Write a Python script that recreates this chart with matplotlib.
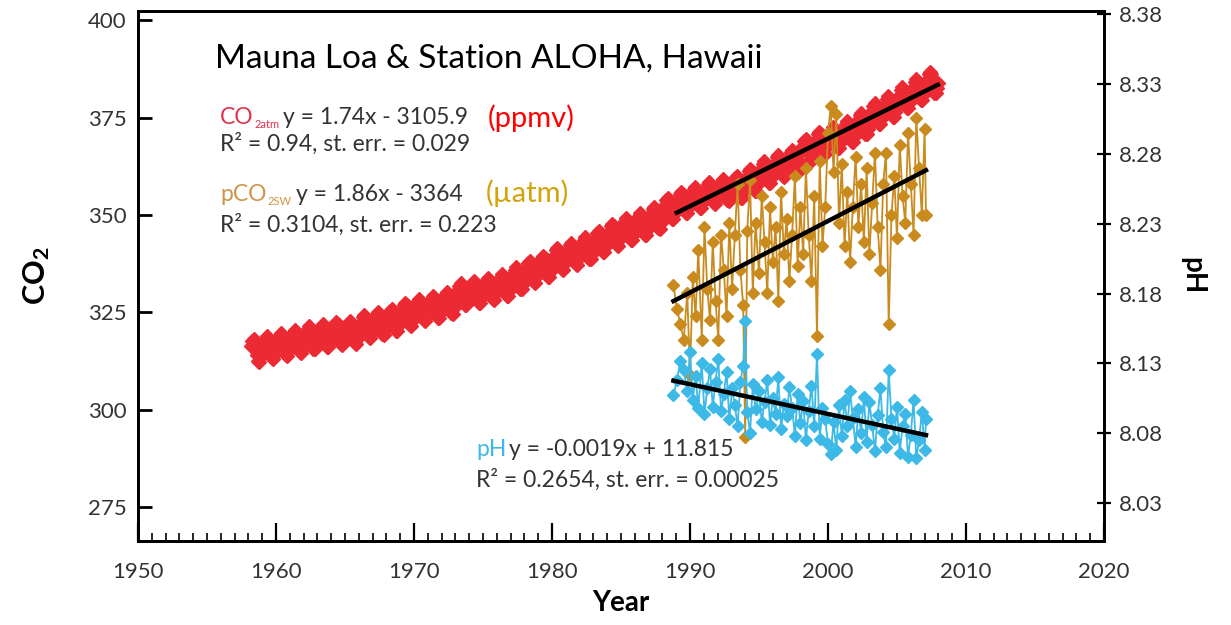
import matplotlib
matplotlib.use("Agg")
import matplotlib.pyplot as plt
from matplotlib.ticker import MultipleLocator
import numpy as np

plt.rcParams['font.family'] = ['Lato', 'DejaVu Sans']
plt.rcParams['mathtext.fontset'] = 'custom'
plt.rcParams['mathtext.rm'] = 'Lato'
plt.rcParams['mathtext.bf'] = 'Lato:bold'

# Mauna Loa monthly CO2 (ppmv), one row per year, Jan..Dec (1958 starts in March)
co2_start_year = 1958
co2_rows = [
    [None, None, 316.5, 317.6, 318.2, 317.6, 316.1, 314.1, 312.5, 312.3, 313.6, 314.8],
    [315.6, 316.3, 317.2, 318.3, 318.9, 318.3, 316.8, 314.8, 313.2, 313.0, 314.3, 315.5],
    [316.5, 317.2, 318.1, 319.2, 319.8, 319.2, 317.7, 315.7, 314.1, 313.9, 315.2, 316.4],
    [317.2, 317.9, 318.8, 319.9, 320.5, 319.9, 318.4, 316.4, 314.8, 314.6, 315.9, 317.1],
    [318.1, 318.8, 319.7, 320.8, 321.4, 320.8, 319.3, 317.3, 315.7, 315.5, 316.8, 318.0],
    [318.6, 319.3, 320.2, 321.3, 321.9, 321.3, 319.8, 317.8, 316.2, 316.0, 317.3, 318.5],
    [319.2, 319.9, 320.8, 321.9, 322.5, 321.9, 320.4, 318.4, 316.8, 316.6, 317.9, 319.1],
    [319.6, 320.3, 321.2, 322.3, 322.9, 322.3, 320.8, 318.8, 317.2, 317.0, 318.3, 319.5],
    [321.0, 321.7, 322.6, 323.7, 324.3, 323.7, 322.2, 320.2, 318.6, 318.4, 319.7, 320.9],
    [321.8, 322.5, 323.4, 324.5, 325.1, 324.5, 323.0, 321.0, 319.4, 319.2, 320.5, 321.7],
    [322.7, 323.4, 324.3, 325.4, 326.0, 325.4, 323.9, 321.9, 320.3, 320.1, 321.4, 322.6],
    [324.2, 324.9, 325.8, 326.9, 327.5, 326.9, 325.4, 323.4, 321.8, 321.6, 322.9, 324.1],
    [325.0, 325.7, 326.7, 327.9, 328.5, 327.9, 326.6, 324.6, 323.0, 322.9, 324.3, 325.5],
    [325.6, 326.3, 327.3, 328.5, 329.1, 328.5, 327.2, 325.2, 323.6, 323.5, 324.9, 326.1],
    [326.8, 327.5, 328.5, 329.7, 330.3, 329.7, 328.4, 326.4, 324.8, 324.7, 326.1, 327.3],
    [329.0, 329.7, 330.7, 331.9, 332.5, 331.9, 330.6, 328.6, 327.0, 326.9, 328.3, 329.5],
    [329.5, 330.2, 331.2, 332.4, 333.0, 332.4, 331.1, 329.1, 327.5, 327.4, 328.8, 330.0],
    [330.4, 331.1, 332.1, 333.3, 333.9, 333.3, 332.0, 330.0, 328.4, 328.3, 329.7, 330.9],
    [331.3, 332.0, 333.0, 334.2, 334.8, 334.2, 332.9, 330.9, 329.3, 329.2, 330.6, 331.8],
    [333.1, 333.8, 334.8, 336.0, 336.6, 336.0, 334.7, 332.7, 331.1, 331.0, 332.4, 333.6],
    [334.7, 335.4, 336.4, 337.6, 338.2, 337.6, 336.3, 334.3, 332.7, 332.6, 334.0, 335.2],
    [336.1, 336.8, 337.8, 339.0, 339.6, 339.0, 337.7, 335.7, 334.1, 334.0, 335.4, 336.6],
    [338.1, 338.8, 339.8, 341.0, 341.6, 341.0, 339.7, 337.7, 336.1, 336.0, 337.4, 338.6],
    [339.4, 340.1, 341.1, 342.3, 342.9, 342.3, 341.0, 339.0, 337.4, 337.3, 338.7, 339.9],
    [340.8, 341.5, 342.5, 343.7, 344.3, 343.7, 342.4, 340.4, 338.8, 338.7, 340.1, 341.3],
    [342.5, 343.2, 344.2, 345.4, 346.0, 345.4, 344.1, 342.1, 340.5, 340.4, 341.8, 343.0],
    [344.2, 344.9, 345.9, 347.1, 347.7, 347.1, 345.8, 343.8, 342.2, 342.1, 343.5, 344.7],
    [345.7, 346.4, 347.4, 348.6, 349.2, 348.6, 347.3, 345.3, 343.7, 343.6, 345.0, 346.2],
    [346.9, 347.6, 348.6, 349.8, 350.4, 349.8, 348.5, 346.5, 344.9, 344.8, 346.2, 347.4],
    [348.6, 349.3, 350.3, 351.5, 352.1, 351.5, 350.2, 348.2, 346.6, 346.5, 347.9, 349.1],
    [351.0, 351.7, 352.7, 353.9, 354.5, 353.9, 352.6, 350.6, 349.0, 348.9, 350.3, 351.5],
    [352.5, 353.2, 354.2, 355.4, 356.0, 355.4, 354.1, 352.1, 350.5, 350.4, 351.8, 353.0],
    [353.8, 354.5, 355.5, 356.7, 357.3, 356.7, 355.4, 353.4, 351.8, 351.7, 353.1, 354.3],
    [355.0, 355.7, 356.7, 357.9, 358.5, 357.9, 356.6, 354.6, 353.0, 352.9, 354.3, 355.5],
    [355.8, 356.5, 357.5, 358.7, 359.3, 358.7, 357.4, 355.4, 353.8, 353.7, 355.1, 356.3],
    [356.5, 357.2, 358.2, 359.4, 360.0, 359.4, 358.1, 356.1, 354.5, 354.4, 355.8, 357.0],
    [358.3, 359.0, 360.0, 361.2, 361.8, 361.2, 359.9, 357.9, 356.3, 356.2, 357.6, 358.8],
    [360.3, 361.0, 362.0, 363.2, 363.8, 363.2, 361.9, 359.9, 358.3, 358.2, 359.6, 360.8],
    [362.0, 362.7, 363.7, 364.9, 365.5, 364.9, 363.6, 361.6, 360.0, 359.9, 361.3, 362.5],
    [363.2, 363.9, 364.9, 366.1, 366.7, 366.1, 364.8, 362.8, 361.2, 361.1, 362.5, 363.7],
    [366.1, 366.8, 367.8, 369.0, 369.6, 369.0, 367.7, 365.7, 364.1, 364.0, 365.4, 366.6],
    [367.8, 368.5, 369.5, 370.7, 371.3, 370.7, 369.4, 367.4, 365.8, 365.7, 367.1, 368.3],
    [368.8, 369.5, 370.5, 371.8, 372.5, 371.9, 370.6, 368.6, 367.1, 367.1, 368.4, 369.7],
    [370.4, 371.1, 372.1, 373.4, 374.1, 373.5, 372.2, 370.2, 368.7, 368.7, 370.0, 371.3],
    [372.6, 373.3, 374.3, 375.6, 376.3, 375.7, 374.4, 372.4, 370.9, 370.9, 372.2, 373.5],
    [375.1, 375.8, 376.8, 378.1, 378.8, 378.2, 376.9, 374.9, 373.4, 373.4, 374.7, 376.0],
    [376.8, 377.5, 378.5, 379.8, 380.5, 379.9, 378.6, 376.6, 375.1, 375.1, 376.4, 377.7],
    [379.1, 379.8, 380.8, 382.1, 382.8, 382.2, 380.9, 378.9, 377.4, 377.4, 378.7, 380.0],
    [381.2, 381.9, 382.9, 384.2, 384.9, 384.3, 383.0, 381.0, 379.5, 379.5, 380.8, 382.1],
    [383.1, 383.8, 384.8, 386.1, 386.8, 386.2, 384.9, 382.9, 381.4, 381.4, 382.7, 384.0],
]

# Station ALOHA cruises: sample dates, seawater pCO2 (uatm) and pH
hot_time = [
    1988.80, 1989.05, 1989.30, 1989.55, 1989.80, 1990.00, 1990.20, 1990.40, 1990.60, 1990.85,
    1991.05, 1991.25, 1991.45, 1991.65, 1991.85, 1992.05, 1992.25, 1992.45, 1992.65, 1992.85,
    1993.05, 1993.25, 1993.45, 1993.65, 1993.85, 1994.00, 1994.15, 1994.35, 1994.55, 1994.75,
    1995.00, 1995.20, 1995.40, 1995.60, 1995.80, 1996.00, 1996.20, 1996.40, 1996.60, 1996.80,
    1997.00, 1997.20, 1997.40, 1997.60, 1997.80, 1998.00, 1998.20, 1998.40, 1998.60, 1998.80,
    1999.00, 1999.20, 1999.40, 1999.60, 1999.80, 2000.00, 2000.20, 2000.40, 2000.60, 2000.80,
    2001.00, 2001.20, 2001.40, 2001.60, 2001.80, 2002.00, 2002.20, 2002.40, 2002.60, 2002.80,
    2003.00, 2003.20, 2003.40, 2003.60, 2003.80, 2004.00, 2004.20, 2004.40, 2004.60, 2004.80,
    2005.00, 2005.20, 2005.40, 2005.60, 2005.80, 2006.00, 2006.20, 2006.40, 2006.60, 2006.80,
    2007.00, 2007.10,
]
pco2_sw = [
    332, 326, 322, 318, 330, 309, 334, 324, 341, 318,
    347, 331, 323, 343, 328, 318, 345, 336, 324, 348,
    331, 345, 358, 336, 327, 293, 346, 359, 330, 348,
    335, 355, 343, 330, 352, 338, 347, 328, 356, 340,
    349, 333, 345, 360, 337, 352, 340, 362, 345, 333,
    355, 319, 364, 342, 352, 371, 378, 361, 376, 348,
    363, 342, 356, 338, 352, 365, 347, 358, 343, 362,
    340, 353, 366, 347, 336, 358, 366, 322, 350, 360,
    344, 368, 355, 348, 371, 358, 345, 375, 362, 350,
    372, 350,
]
ph_sw = [
    8.107, 8.118, 8.132, 8.125, 8.110, 8.138, 8.104, 8.121, 8.098, 8.130,
    8.094, 8.112, 8.126, 8.099, 8.117, 8.133, 8.096, 8.108, 8.124, 8.090,
    8.112, 8.100, 8.085, 8.117, 8.128, 8.160, 8.095, 8.080, 8.115, 8.097,
    8.110, 8.088, 8.102, 8.118, 8.086, 8.105, 8.094, 8.120, 8.083, 8.101,
    8.092, 8.113, 8.098, 8.078, 8.108, 8.087, 8.103, 8.075, 8.096, 8.114,
    8.085, 8.137, 8.076, 8.098, 8.090, 8.072, 8.065, 8.088, 8.068, 8.100,
    8.078, 8.104, 8.085, 8.110, 8.091, 8.070, 8.097, 8.080, 8.106, 8.074,
    8.102, 8.086, 8.067, 8.093, 8.112, 8.081, 8.070, 8.125, 8.090, 8.076,
    8.099, 8.066, 8.085, 8.094, 8.063, 8.079, 8.104, 8.062, 8.075, 8.095,
    8.068, 8.090,
]

year_ticks = [1950, 1960, 1970, 1980, 1990, 2000, 2010, 2020]
co2_ticks = [275, 300, 325, 350, 375, 400]
ph_ticks = [8.03, 8.08, 8.13, 8.18, 8.23, 8.28, 8.33, 8.38]

RED = '#ec2a33'
GOLD = '#c98a1e'
BLUE = '#3cb9e6'
TXT = '#333333'

# flatten the monthly table into (decimal year, ppmv)
co2_t, co2_v = [], []
for i, row in enumerate(co2_rows):
    for m, v in enumerate(row):
        if v is not None:
            co2_t.append(co2_start_year + i + (m + 0.5) / 12)
            co2_v.append(v)
co2_t = np.array(co2_t)
co2_v = np.array(co2_v)
hot_time = np.array(hot_time)

W, H = 1231, 625
fig = plt.figure(figsize=(W / 100, H / 100), dpi=100)
ax = fig.add_axes([138 / W, 1 - 541 / H, (1104 - 138) / W, (541 - 11) / H])
ax2 = ax.twinx()

ax.plot(co2_t, co2_v, 'D', color=RED, ms=7.5, mec=RED, zorder=2)
ax.plot(hot_time, pco2_sw, '-D', color=GOLD, lw=1.3, ms=6, zorder=3)
ax2.plot(hot_time, ph_sw, '-D', color=BLUE, lw=1.3, ms=6, zorder=3)

# linear trends over the ALOHA period
sel = (co2_t >= 1989) & (co2_t <= 2008)
k, b = np.polyfit(co2_t[sel], co2_v[sel], 1)
tt = np.array([co2_t[sel][0], co2_t[sel][-1]])
ax.plot(tt, k * tt + b, color='black', lw=3.2, zorder=5)

tt = np.array([hot_time[0], hot_time[-1]])
k, b = np.polyfit(hot_time, pco2_sw, 1)
ax.plot(tt, k * tt + b, color='black', lw=3.2, zorder=5)
k, b = np.polyfit(hot_time, ph_sw, 1)
ax2.plot(tt, k * tt + b, color='black', lw=3.2, zorder=5)

ax.set_xlim(1950, 2020)
ax.set_ylim(266.3, 402.4)
ax2.set_ylim(8.0028, 8.3823)
ax.set_xticks(year_ticks)
ax.xaxis.set_minor_locator(MultipleLocator(1))
ax.set_yticks(co2_ticks)
ax2.set_yticks(ph_ticks)
ax2.set_yticklabels(['%.2f' % v for v in ph_ticks])

for a in (ax, ax2):
    for s in a.spines.values():
        s.set_linewidth(2)
ax.tick_params(axis='y', direction='in', length=10, width=2, labelsize=16,
               labelcolor=TXT, pad=8)
ax.tick_params(axis='x', which='major', direction='in', length=13, width=1.6,
               labelsize=16, labelcolor=TXT, pad=15)
ax.tick_params(axis='x', which='minor', direction='in', length=6, width=1.2)
ax2.tick_params(axis='y', direction='inout', length=10, width=1.6, labelsize=16,
                labelcolor=TXT, pad=6)

ax.set_xlabel('Year', fontsize=20, fontweight='bold', labelpad=6)
ax.set_ylabel(r'$\mathbf{CO_2}$', fontsize=22, labelpad=26)
ax2.set_ylabel('pH', fontsize=20, fontweight='bold', rotation=270, labelpad=30)

renderer = fig.canvas.get_renderer()


def put_line(x, y, pieces):
    # pieces: (text, size, color, baseline shift px, gap px after)
    for s, size, color, dy, gap in pieces:
        t = fig.text(x / W, 1 - (y + dy) / H, s, fontsize=size, color=color,
                     va='baseline')
        x += t.get_window_extent(renderer).width + gap


put_line(215, 68, [('Mauna Loa & Station ALOHA, Hawaii', 24, 'black', 0, 0)])

put_line(220, 124, [('CO', 16.5, '#e4304a', 0, 1), ('2atm', 8, '#e4304a', 4, 3),
                    ('y = 1.74x - 3105.9', 16.5, TXT, 0, 0)])
put_line(488, 127, [('(ppmv)', 21, '#ff0000', 0, 0)])
put_line(220, 151, [('R² = 0.94, st. err. = 0.029', 16.5, TXT, 0, 0)])

put_line(220, 201, [('pCO', 16.5, '#cf9448', 0, 1), ('2SW', 8, '#cf9448', 4, 4),
                    ('y = 1.86x - 3364', 16.5, TXT, 0, 0)])
put_line(486, 202, [('(µatm)', 21, '#d4a20a', 0, 0)])
put_line(220, 232, [('R² = 0.3104, st. err. = 0.223', 16.5, TXT, 0, 0)])

put_line(476, 456, [('pH', 16.5, BLUE, 0, 3), ('y = -0.0019x + 11.815', 16.5, TXT, 0, 0)])
put_line(476, 487, [('R² = 0.2654, st. err. = 0.00025', 16.5, TXT, 0, 0)])

fig.savefig('out.png', dpi=100)
